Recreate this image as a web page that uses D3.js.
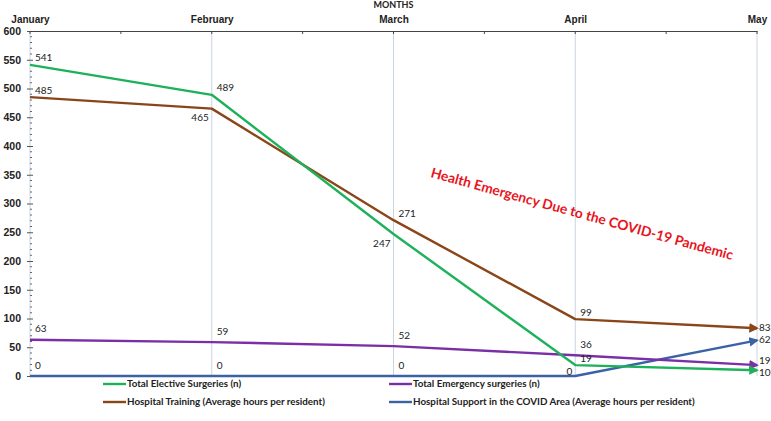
<!DOCTYPE html>
<html>
<head>
<meta charset="utf-8">
<script src="https://cdn.jsdelivr.net/npm/d3@7"></script>
<style>
  body { margin: 0; background: #fff; }
  svg { font-family: Lato, "Open Sans", sans-serif; }
  .tick text { font-weight: bold; fill: #222; }
</style>
</head>
<body>
<svg id="chart" width="771" height="421"></svg>
<script>
// data
const months = ["January", "February", "March", "April", "May"];
const elective = [541, 489, 247, 19, 10];
const emergency = [63, 59, 52, 36, 19];
const training = [485, 465, 271, 99, 83];
const support = [0, 0, 0, 0, 62];
const yTicks = [0, 50, 100, 150, 200, 250, 300, 350, 400, 450, 500, 550, 600];

const series = [
  {name: "Total Elective Surgeries (n)", values: elective, color: "#1db15a",
   place: ["ar", "ar", "lb", "ar", "rb"]},
  {name: "Total Emergency surgeries (n)", values: emergency, color: "#7a2fa6",
   place: ["ah", "ah", "ah", "ah", "ra"]},
  {name: "Hospital Training (Average hours per resident)", values: training, color: "#8a4619",
   place: ["ar", "lb", "ar", "ar", "r"]},
  {name: "Hospital Support in the COVID Area (Average hours per resident)", values: support, color: "#3b62a5",
   place: ["ah", "ah", "ah", "l", "r"]}
];

const svg = d3.select("#chart");
const margin = {top: 31, left: 30, right: 14, bottom: 45};
const width = 771 - margin.left - margin.right;
const height = 421 - margin.top - margin.bottom;

const g = svg.append("g").attr("transform", `translate(${margin.left},${margin.top})`);

const x = d3.scalePoint().domain(months).range([0, width]);
const y = d3.scaleLinear().domain([0, 600]).range([height, 0]);

// vertical gridlines
g.append("g").selectAll("line").data(months).join("line")
  .attr("x1", d => x(d)).attr("x2", d => x(d))
  .attr("y1", 0).attr("y2", height)
  .attr("stroke", "#c9d3e6").attr("stroke-width", 1);

// y axis: major + minor ticks
const yAxis = g.append("g")
  .call(d3.axisLeft(y).tickValues(yTicks).tickSize(3).tickPadding(6))
  .call(a => a.select(".domain").remove());
yAxis.selectAll(".tick line").attr("stroke", "#555").attr("x2", 3).attr("x1", -3);
yAxis.selectAll(".tick text").attr("font-size", 10.5);
g.append("g").selectAll("line").data(d3.range(0, 601, 10).filter(v => v % 50 !== 0)).join("line")
  .attr("x1", 0).attr("x2", 2)
  .attr("y1", d => y(d)).attr("y2", d => y(d))
  .attr("stroke", "#666").attr("stroke-width", 1);

// top x axis
const step = x.step();
const xAxis = g.append("g")
  .call(d3.axisTop(x).tickSize(0).tickPadding(8));
xAxis.select(".domain").attr("stroke", "#444").attr("stroke-width", 1.2);
xAxis.selectAll(".tick text").attr("font-size", 10);
g.append("g").selectAll("line")
  .data(d3.range(0, months.length * 2 - 1).map(i => i * step / 2)).join("line")
  .attr("x1", d => d).attr("x2", d => d)
  .attr("y1", 0).attr("y2", 3)
  .attr("stroke", "#444");

svg.append("text")
  .attr("x", margin.left + x("March")).attr("y", 8)
  .attr("text-anchor", "middle")
  .attr("font-size", 9).attr("font-weight", "bold").attr("fill", "#222")
  .text("MONTHS");

// arrow markers
const defs = svg.append("defs");
series.forEach((s, i) => {
  defs.append("marker")
    .attr("id", "arrow" + i)
    .attr("viewBox", "0 0 10 10")
    .attr("refX", 8).attr("refY", 5)
    .attr("markerWidth", 4).attr("markerHeight", 4)
    .attr("orient", "auto")
    .append("path").attr("d", "M0,0L10,5L0,10z").attr("fill", s.color);
});

const line = d3.line().x((d, i) => x(months[i])).y(d => y(d));

// draw order: support underneath
const order = [3, 1, 2, 0];
order.forEach(i => {
  const s = series[i];
  g.append("path")
    .datum(s.values)
    .attr("fill", "none")
    .attr("stroke", s.color)
    .attr("stroke-width", 2.4)
    .attr("stroke-linejoin", "round")
    .attr("marker-end", `url(#arrow${i})`)
    .attr("d", line);
});

// data labels
const offs = {
  ar: {dx: 5, dy: -6, anchor: "start"},
  ah: {dx: 5, dy: -10, anchor: "start"},
  lb: {dx: -3, dy: 10, anchor: "end"},
  l: {dx: -3, dy: -4, anchor: "end"},
  r: {dx: 2, dy: 0, anchor: "start"},
  ra: {dx: 2, dy: -4, anchor: "start"},
  rb: {dx: 2, dy: 3, anchor: "start"}
};
series.forEach(s => {
  g.append("g").selectAll("text").data(s.values).join("text")
    .attr("x", (d, i) => x(months[i]) + offs[s.place[i]].dx)
    .attr("y", (d, i) => y(d) + offs[s.place[i]].dy)
    .attr("text-anchor", (d, i) => offs[s.place[i]].anchor)
    .attr("dominant-baseline", "middle")
    .attr("font-size", 10)
    .attr("fill", "#222")
    .text(d => d);
});

// annotation
svg.append("text")
  .attr("transform", "translate(430,177) rotate(15.4)")
  .attr("font-size", 13.8).attr("font-weight", "bold")
  .attr("fill", "#e8141c")
  .text("Health Emergency Due to the COVID-19 Pandemic");

// legend
const legendPos = [[103, 384], [389, 384], [103, 402], [389, 402]];
series.forEach((s, i) => {
  const lg = svg.append("g").attr("transform", `translate(${legendPos[i][0]},${legendPos[i][1]})`);
  lg.append("line").attr("x1", 0).attr("x2", 23).attr("y1", 0).attr("y2", 0)
    .attr("stroke", s.color).attr("stroke-width", 2.4);
  lg.append("text").attr("x", 24).attr("y", 0)
    .attr("dominant-baseline", "middle")
    .attr("font-size", 9.8).attr("font-weight", "bold").attr("fill", "#222")
    .text(s.name);
});
</script>
</body>
</html>
